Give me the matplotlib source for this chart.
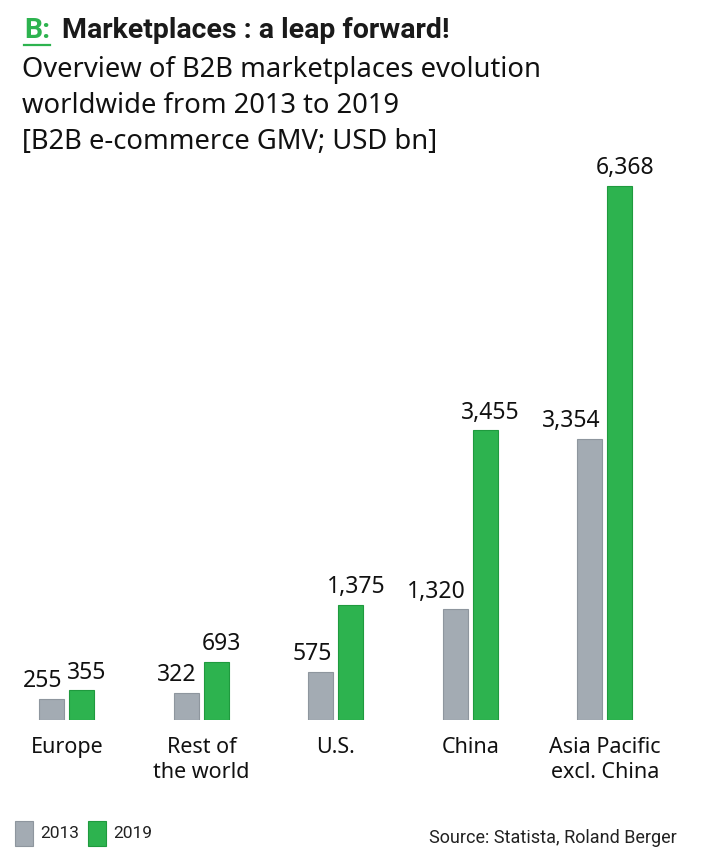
import matplotlib
matplotlib.use("Agg")
import matplotlib.pyplot as plt
from matplotlib.patches import Rectangle
from matplotlib.lines import Line2D
import numpy as np

regions = ["Europe", "Rest of\nthe world", "U.S.", "China", "Asia Pacific\nexcl. China"]
gmv_2013 = [255, 322, 575, 1320, 3354]
gmv_2019 = [355, 693, 1375, 3455, 6368]
years = ["2013", "2019"]

GRAY = "#A3ABB3"
GRAY_EDGE = "#8E969E"
GREEN = "#2DB34F"
GREEN_EDGE = "#1F9A3E"
FONT = ["Noto Sans", "DejaVu Sans"]
BOLD = ["Roboto", "DejaVu Sans"]
NARROW = ["Liberation Sans Narrow", "Roboto", "DejaVu Sans"]
plt.rcParams["font.family"] = FONT

W, H = 715, 866
fig = plt.figure(figsize=(W / 100, H / 100), dpi=100)

# axes: baseline at y=720px, group spacing ~134.5px, first group centred at 67px
step = 134.5
x0 = 67
top_px = 150
ax = fig.add_axes([0, (H - 720) / H, 1, (720 - top_px) / H])
ax.set_xlim(-x0 / step, (W - x0) / step)
ax.set_ylim(0, max(gmv_2019) * (720 - top_px) / (720 - 186))
ax.axis("off")

x = np.arange(len(regions))
bw = 25 / step
off = 15 / step
b1 = ax.bar(x - off, gmv_2013, bw, color=GRAY, edgecolor=GRAY_EDGE, linewidth=0.8)
b2 = ax.bar(x + off, gmv_2019, bw, color=GREEN, edgecolor=GREEN_EDGE, linewidth=0.8)

# 2013 labels sit right-aligned on the bar, 2019 labels roughly centred
for rect, v in zip(b1, gmv_2013):
    ax.annotate(f"{v:,}", (rect.get_x() + rect.get_width() - 2 / step, v),
                xytext=(0, 4), textcoords="offset points",
                ha="right", va="bottom", fontsize=16.5, color="#111111")
for rect, v in zip(b2, gmv_2019):
    ax.annotate(f"{v:,}", (rect.get_x() + rect.get_width() / 2 + 5 / step, v),
                xytext=(0, 4), textcoords="offset points",
                ha="center", va="bottom", fontsize=16.5, color="#111111")

for xi, name in zip(x, regions):
    ax.annotate(name, (xi, 0), xytext=(0, -12), textcoords="offset points",
                ha="center", va="top", fontsize=15.5, color="#111111", linespacing=1.3,
                annotation_clip=False)

# title block
t1 = fig.text(24 / W, 1 - 30 / H, "B:", color=GREEN, fontsize=20.5, fontweight="bold",
              family=BOLD, va="center", ha="left")
fig.text(62 / W, 1 - 30 / H, "Marketplaces : a leap forward!", color="#1a1a1a",
         fontsize=20.5, fontweight="bold", family=BOLD, va="center", ha="left")
fig.text(22 / W, 1 - 56 / H, "Overview of B2B marketplaces evolution\nworldwide from 2013 to 2019\n[B2B e-commerce GMV; USD bn]",
         color="#111111", fontsize=19.7, va="top", ha="left", linespacing=1.38)

fig.canvas.draw()
bb = t1.get_window_extent().transformed(fig.transFigure.inverted())
fig.add_artist(Line2D([bb.x0, bb.x1], [1 - 45 / H, 1 - 45 / H],
                      color=GREEN, linewidth=1.6, transform=fig.transFigure, zorder=10))

# legend
for i, (lab, fc, ec) in enumerate(zip(years, [GRAY, GREEN], [GRAY_EDGE, GREEN_EDGE])):
    lx = (15 + i * 73) / W
    fig.add_artist(Rectangle((lx, 1 - 846 / H), 18 / W, 25 / H, facecolor=fc,
                             edgecolor=ec, linewidth=0.8, transform=fig.transFigure))
    fig.text(lx + 25 / W, 1 - 834 / H, lab, fontsize=12.5, color="#222222",
             family=NARROW, ha="left", va="center")

fig.text(677 / W, 1 - 838 / H, "Source: Statista, Roland Berger", fontsize=13,
         color="#222222", family=NARROW, ha="right", va="center")

fig.savefig("out.png", dpi=100)
